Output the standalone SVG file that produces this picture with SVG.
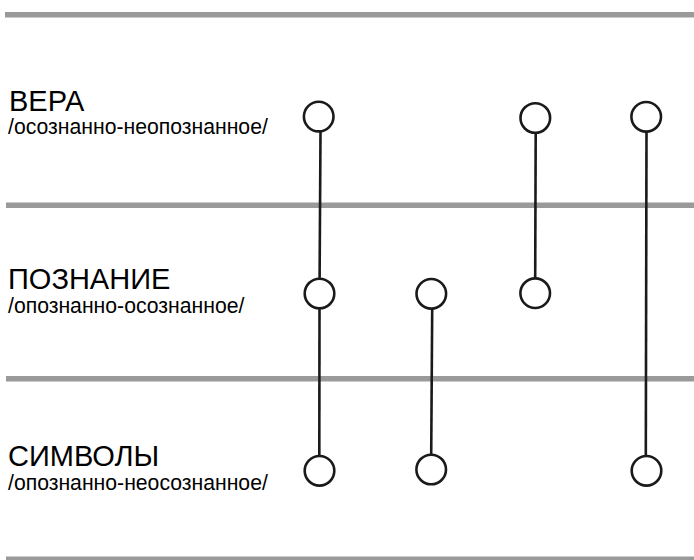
<svg xmlns="http://www.w3.org/2000/svg" width="694" height="560" viewBox="0 0 694 560">
<style>
.band{fill:#9a9a9a}
.node circle{fill:#fff;stroke:#1a1a1a;stroke-width:2.6}
.conn line{stroke:#1a1a1a;stroke-width:2.6}
.t{font-family:"Liberation Sans",Arial,sans-serif;fill:#000}
.h{font-size:29px}
.s{font-size:21.2px}
</style>
<rect width="694" height="560" fill="#fff"/>
<g id="bands">
<rect class="band" x="5" y="12" width="689" height="5.5"/>
<rect class="band" x="6" y="202.5" width="688" height="5.5"/>
<rect class="band" x="6" y="376" width="688" height="5.5"/>
<rect class="band" x="6" y="556.5" width="688" height="5"/>
</g>
<g id="labels">
<text class="t h" x="9" y="110.5">ВЕРА</text>
<text class="t s" x="8" y="133.5">/осознанно-неопознанное/</text>
<text class="t h" x="8" y="288.5">ПОЗНАНИЕ</text>
<text class="t s" x="8" y="312.5">/опознанно-осознанное/</text>
<text class="t h" x="8" y="465.5">СИМВОЛЫ</text>
<text class="t s" x="8" y="490">/опознанно-неосознанное/</text>
</g>
<g id="connectors" class="conn">
<line x1="320.5" y1="132" x2="319.6" y2="278.5"/>
<line x1="319.5" y1="308.5" x2="319.3" y2="455.5"/>
<line x1="535.7" y1="133" x2="535.2" y2="278"/>
<line x1="646.5" y1="132" x2="645.8" y2="455.5"/>
<line x1="432.2" y1="309" x2="431.2" y2="454.5"/>
</g>
<g id="vera-1" class="node"><circle cx="318.7" cy="116.6" r="14.8"/></g>
<g id="vera-2" class="node"><circle cx="535.3" cy="118" r="14.8"/></g>
<g id="vera-3" class="node"><circle cx="646.2" cy="116.8" r="14.8"/></g>
<g id="poznanie-1" class="node"><circle cx="319.5" cy="293.5" r="14.8"/></g>
<g id="poznanie-2" class="node"><circle cx="431.3" cy="293.8" r="14.8"/></g>
<g id="poznanie-3" class="node"><circle cx="535.2" cy="293.2" r="14.8"/></g>
<g id="simvoly-1" class="node"><circle cx="319.5" cy="470.8" r="14.8"/></g>
<g id="simvoly-2" class="node"><circle cx="431.2" cy="469.5" r="14.8"/></g>
<g id="simvoly-3" class="node"><circle cx="646.5" cy="470.8" r="14.8"/></g>
</svg>
